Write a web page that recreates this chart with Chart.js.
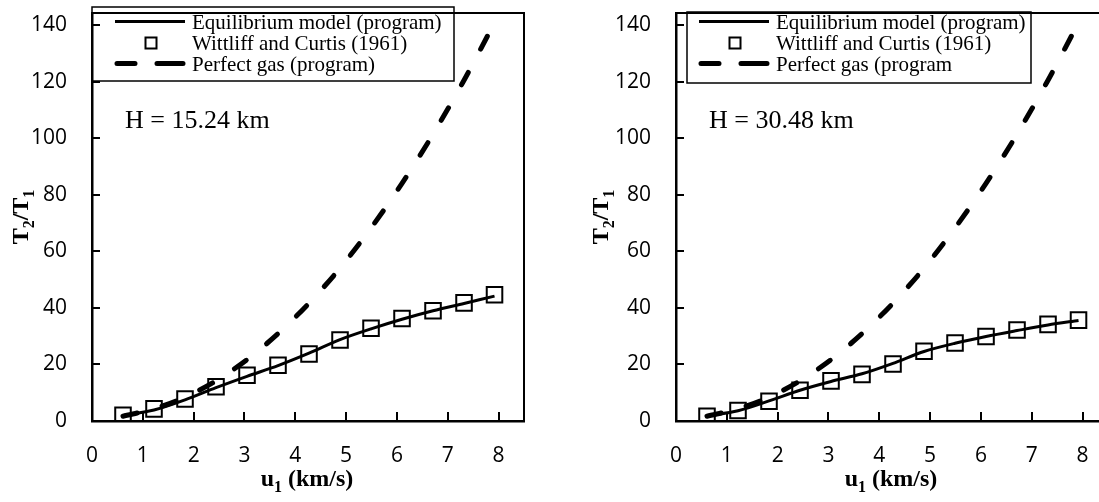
<!DOCTYPE html>
<html>
<head>
<meta charset="utf-8">
<script src="https://cdn.jsdelivr.net/npm/chart.js@4.4.1/dist/chart.umd.min.js"></script>
<style>
  html, body { margin: 0; padding: 0; background: #fff; overflow: hidden; width: 1099px; height: 502px; }
  .panel { position: absolute; top: 0; width: 540px; height: 502px; }
  #left { left: 0; }
  #right { left: 584px; }
</style>
</head>
<body>
<div class="panel" id="left"><canvas id="c1"></canvas></div>
<div class="panel" id="right"><canvas id="c2"></canvas></div>
<script>
// flight speed u1 (km/s) of the computed / measured points
const speeds = [0.61, 1.22, 1.83, 2.44, 3.05, 3.66, 4.27, 4.88, 5.49, 6.10, 6.71, 7.32, 7.92];

// H = 15.24 km
const equilLow   = [1.9, 3.9, 7.5, 11.8, 15.8, 19.6, 24.0, 28.8, 32.6, 36.0, 39.0, 41.6, 44.2];
const wittLow    = [2.0, 4.3, 7.8, 12.1, 16.2, 19.7, 23.7, 28.7, 32.8, 36.3, 39.0, 41.8, 44.7];
const perfectLow = [1.7, 4.3, 8.4, 14.2, 21.7, 30.9, 41.7, 54.1, 68.3, 84.1, 101.5, 120.6, 141.0];

// H = 30.48 km
const equilHigh   = [1.8, 3.6, 7.1, 10.9, 14.0, 16.7, 20.4, 24.6, 27.5, 29.9, 32.0, 34.0, 35.6];
const wittHigh    = [1.7, 3.7, 7.0, 10.9, 14.2, 16.5, 20.2, 24.7, 27.6, 29.9, 32.2, 34.2, 35.7];
const perfectHigh = [1.7, 4.3, 8.4, 14.2, 21.7, 30.9, 41.7, 54.1, 68.3, 84.1, 101.5, 120.6, 141.0];

const xTicks = [0, 1, 2, 3, 4, 5, 6, 7, 8];
const yTicks = [0, 20, 40, 60, 80, 100, 120, 140];

const SERIF = '"Liberation Serif", "Times New Roman", serif';
const SANS = '"Open Sans", sans-serif';

function pts(ys) {
    return speeds.map((x, i) => ({ x: x, y: ys[i] }));
}

function drawRich(ctx, parts, x, y, align) {
    let w = 0;
    parts.forEach(p => { ctx.font = p[1]; w += ctx.measureText(p[0]).width; });
    let cx = align === 'center' ? x - w / 2 : x;
    parts.forEach(p => {
        ctx.font = p[1];
        ctx.fillText(p[0], cx, y + (p[2] || 0));
        cx += ctx.measureText(p[0]).width;
    });
}

const decor = {
    id: 'decor',
    // legend box, drawn before the axes
    beforeDraw(chart) {
        const o = chart.options.plugins.decor;
        const ctx = chart.ctx, a = chart.chartArea;
        if (!a) return;
        ctx.save();
        ctx.strokeStyle = '#000';
        ctx.fillStyle = '#000';
        const b = o.box;
        ctx.lineWidth = 1.5;
        ctx.strokeRect(a.left + b[0], b[1], b[2] - b[0], b[3] - b[1]);

        const sx0 = a.left + 23, sx1 = a.left + 93;
        ctx.lineWidth = 3;
        ctx.beginPath();
        ctx.moveTo(sx0, 21.5);
        ctx.lineTo(sx1, 21.5);
        ctx.stroke();

        ctx.lineWidth = 2;
        ctx.strokeRect(a.left + 59 - 5.5, 43 - 5.5, 11, 11);

        ctx.lineWidth = 5;
        ctx.lineCap = 'round';
        ctx.beginPath();
        ctx.moveTo(sx0 + 2, 63.5);
        ctx.lineTo(sx0 + 20, 63.5);
        ctx.moveTo(sx0 + 42, 63.5);
        ctx.lineTo(sx1 - 2, 63.5);
        ctx.stroke();

        ctx.textAlign = 'left';
        ctx.textBaseline = 'alphabetic';
        ctx.font = '21px ' + SERIF;
        o.labels.forEach((t, i) => ctx.fillText(t, a.left + 100, 28.5 + i * 21));
        ctx.restore();
    },
    // frame, inner ticks, axis titles and altitude note
    afterDraw(chart) {
        const o = chart.options.plugins.decor;
        const ctx = chart.ctx, a = chart.chartArea;
        const xs = chart.scales.x, ys = chart.scales.y;
        ctx.save();
        ctx.strokeStyle = '#000';
        ctx.fillStyle = '#000';
        ctx.lineWidth = 2;
        ctx.beginPath();
        ctx.moveTo(a.left, a.top);
        ctx.lineTo(a.right, a.top);
        ctx.lineTo(a.right, a.bottom);
        ctx.stroke();

        ctx.lineWidth = 2;
        xTicks.slice(1).forEach(v => {
            const px = Math.round(xs.getPixelForValue(v));
            ctx.beginPath();
            ctx.moveTo(px, a.bottom);
            ctx.lineTo(px, a.bottom - 9);
            ctx.stroke();
        });
        yTicks.slice(1).forEach(v => {
            const py = Math.round(ys.getPixelForValue(v));
            ctx.beginPath();
            ctx.moveTo(a.left, py);
            ctx.lineTo(a.left + 8, py);
            ctx.stroke();
        });

        ctx.textBaseline = 'alphabetic';
        ctx.textAlign = 'left';
        const big = 'bold 24px ' + SERIF, sub = 'bold 16px ' + SERIF;
        drawRich(ctx, [['u', big], ['1', sub, 6], [' (km/s)', big]], a.left + 215, 486, 'center');

        ctx.save();
        ctx.translate(a.left - o.titleOff, (a.top + a.bottom) / 2);
        ctx.rotate(-Math.PI / 2);
        drawRich(ctx, [['T', big], ['2', sub, 6], ['/T', big], ['1', sub, 6]], 0, 0, 'center');
        ctx.restore();

        ctx.font = '26px ' + SERIF;
        ctx.fillText(o.note, a.left + 33, 128);
        ctx.restore();
    }
};

function makeChart(id, equil, witt, perfect, note, labels, box, titleOff) {
    return new Chart(document.getElementById(id), {
        type: 'scatter',
        data: {
            datasets: [
                {
                    label: labels[2],
                    data: pts(perfect),
                    showLine: true,
                    borderColor: '#000',
                    borderWidth: 5,
                    borderDash: [14.5, 26.2],
                    borderCapStyle: 'round',
                    tension: 0.3,
                    pointRadius: 0
                },
                {
                    label: labels[0],
                    data: pts(equil),
                    showLine: true,
                    borderColor: '#000',
                    borderWidth: 3,
                    tension: 0.3,
                    pointRadius: 0
                },
                {
                    label: labels[1],
                    data: pts(witt),
                    showLine: false,
                    pointStyle: 'rect',
                    pointRadius: 11,
                    pointBorderWidth: 2,
                    pointBorderColor: '#000',
                    pointBackgroundColor: 'rgba(0,0,0,0)'
                }
            ]
        },
        options: {
            responsive: true,
            maintainAspectRatio: false,
            animation: false,
            devicePixelRatio: 1,
            layout: { padding: { top: 7, right: 16, left: 0, bottom: 0 } },
            plugins: {
                legend: { display: false },
                tooltip: { enabled: false },
                decor: { note: note, labels: labels, box: box, titleOff: titleOff }
            },
            scales: {
                x: {
                    type: 'linear',
                    min: 0,
                    max: 8.5,
                    grid: { display: false, drawTicks: false },
                    border: { display: true, color: '#000', width: 2.5 },
                    ticks: { color: '#000', font: { family: SANS, size: 21 }, padding: 22, maxRotation: 0 },
                    afterBuildTicks: s => { s.ticks = xTicks.map(v => ({ value: v })); },
                    afterFit: s => { s.height = 81; s.paddingLeft = 0; s.paddingRight = 0; }
                },
                y: {
                    type: 'linear',
                    min: 0,
                    max: 144.4,
                    grid: { display: false, drawTicks: false },
                    border: { display: true, color: '#000', width: 2.5 },
                    ticks: { color: '#000', font: { family: SANS, size: 21 }, padding: 25 },
                    afterBuildTicks: s => { s.ticks = yTicks.map(v => ({ value: v })); },
                    afterFit: s => { s.width = 92; s.paddingTop = 0; s.paddingBottom = 0; }
                }
            }
        },
        plugins: [decor]
    });
}

makeChart('c1', equilLow, wittLow, perfectLow, 'H = 15.24 km',
    ['Equilibrium model (program)', 'Wittliff and Curtis (1961)', 'Perfect gas (program)'],
    [0, 7, 362, 81], 64);

makeChart('c2', equilHigh, wittHigh, perfectHigh, 'H = 30.48 km',
    ['Equilibrium model (program)', 'Wittliff and Curtis (1961)', 'Perfect gas (program'],
    [11, 12, 355, 83], 68);
</script>
</body>
</html>
